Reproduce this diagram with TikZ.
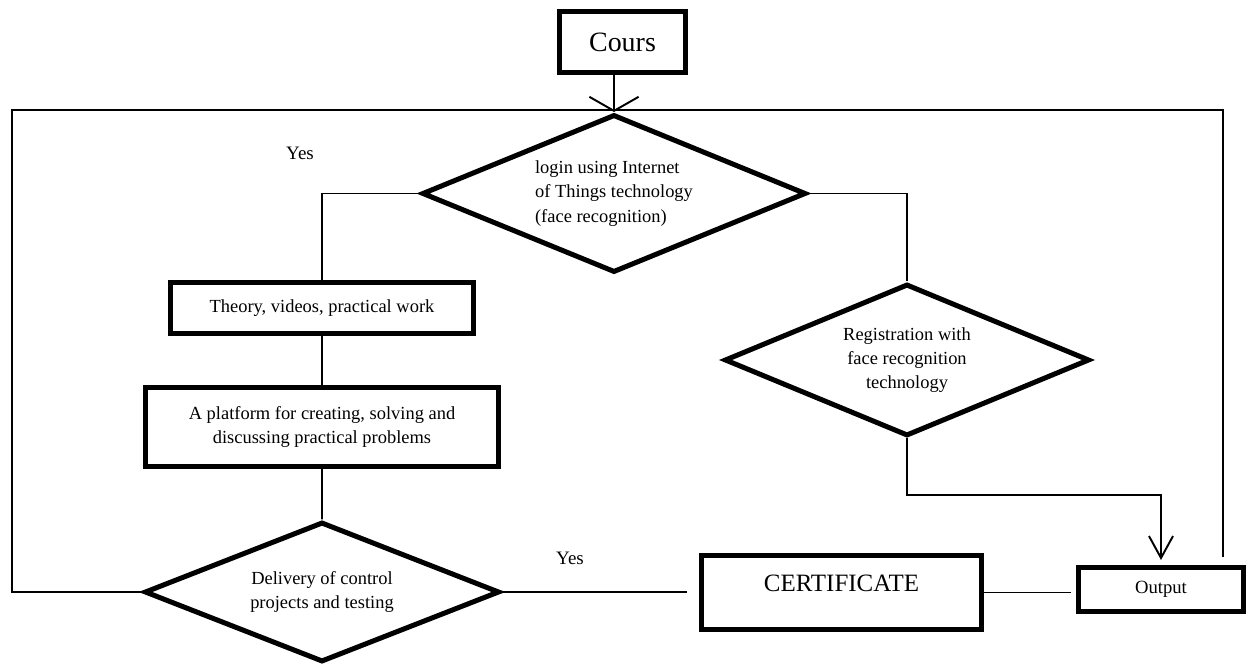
\documentclass[tikz,border=0pt]{standalone}
\usepackage{fontspec}
\setmainfont{Liberation Serif}
\usetikzlibrary{shapes.geometric,arrows.meta}

\begin{document}
\begin{tikzpicture}[scale=0.2]
\tikzstyle{every node}+=[inner sep=0pt, font=\fontsize{10.5pt}{13.7pt}\selectfont]
\tikzstyle{block}=[draw, line width=2.85pt, rectangle, align=center]
\tikzstyle{decision}=[draw, line width=2.85pt, diamond, align=center]
\tikzstyle{link}=[line width=1.1pt]
\useasboundingbox (0,0) rectangle (124.6,-66.4);
% boxes and decisions
\node [block, minimum width=2.52cm, minimum height=1.22cm, font=\fontsize{15.9pt}{18pt}\selectfont] (cours) at (62.25,-4.2) {Cours};
\node [decision, aspect=2.4, minimum width=7.68cm, minimum height=3.16cm, align=left, font=\fontsize{10.5pt}{13.9pt}\selectfont] (login) at (61.4,-19.35) {login using Internet\\of Things technology\\(face recognition)};
\node [block, minimum width=6.06cm, minimum height=1.02cm] (theory) at (32.2,-30.8) {Theory, videos, practical work};
\node [block, minimum width=7.06cm, minimum height=1.58cm, font=\fontsize{10.5pt}{13.1pt}\selectfont] (platform) at (32.2,-42.7) {A platform for creating, solving and\\discussing practical problems};
\node [decision, aspect=2.5, minimum width=7.1cm, minimum height=2.8cm, font=\fontsize{10.5pt}{13.1pt}\selectfont] (delivery) at (32.2,-59.2) {Delivery of control\\projects and testing};
\node [decision, aspect=2.36, minimum width=7.3cm, minimum height=3.04cm] (reg) at (90.7,-36.0) {Registration with\\face recognition\\technology};
\node [block, minimum width=5.6cm, minimum height=1.48cm, text depth=0.36cm, font=\fontsize{14.2pt}{16pt}\selectfont] (cert) at (84.15,-59.25) {CERTIFICATE};
\node [block, minimum width=3.3cm, minimum height=0.88cm, font=\fontsize{10.6pt}{12pt}\selectfont] (output) at (116.1,-58.95) {Output};
\node [font=\fontsize{10.8pt}{12pt}\selectfont] (yesTop) at (30.0,-15.3) {Yes};
\node [font=\fontsize{10.8pt}{12pt}\selectfont] (yesCert) at (57.0,-55.8) {Yes};
\coordinate (loopL) at (1.2,-11);
\coordinate (loopR) at (122.3,-11);
\coordinate (loopEnd) at (122.3,-55.7);
\coordinate (bend) at (116.1,-49.5);
% connectors
\draw [link, -{Straight Barb[length=8pt,width=28pt]}] (cours.south -| login.north) -- (login.north);
\draw [link] (login.west) -| (theory.north);
\draw [link] (login.east) -| (reg.north);
\draw [link] (theory) -- (platform);
\draw [link] (platform) -- (delivery);
\draw [link] (delivery.west) -| (loopL) -- (loopR) -- (loopEnd);
\draw [link, shorten >=0.24cm] (delivery.east) -- (delivery.east -| cert.west);
\draw [link, shorten >=0.1cm] (cert.east) -- (cert.east -| output.west);
\draw [link, -{Straight Barb[length=12.5pt,width=13.7pt]}, shorten >=0.1cm] (reg.south) |- (bend) -- (output.north);
\end{tikzpicture}
\end{document}
